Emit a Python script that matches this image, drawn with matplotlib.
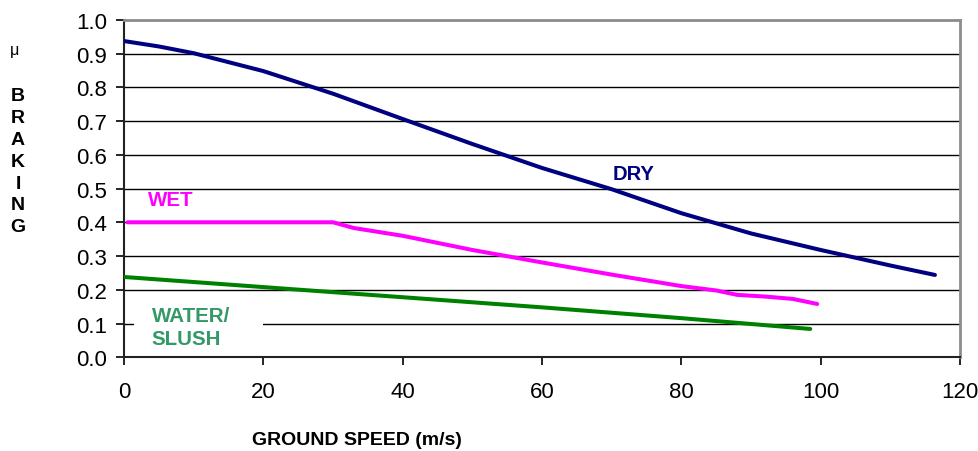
import numpy as np
import matplotlib.pyplot as plt
from matplotlib.patches import Rectangle

plt.rcParams['font.family'] = ['Liberation Sans', 'DejaVu Sans']

# ground speed (m/s) and braking coefficient for each runway state
dry_speed = [0, 5, 10, 20, 30, 40, 50, 60, 70, 80, 90, 100, 110, 116.4]
dry_mu = [0.937, 0.921, 0.901, 0.848, 0.781, 0.706, 0.632, 0.561, 0.498, 0.427, 0.367, 0.318, 0.272, 0.244]

wet_speed = [0.5, 30, 33, 40, 50, 60, 70, 80, 85, 88, 92, 96, 99.5]
wet_mu = [0.400, 0.400, 0.383, 0.360, 0.318, 0.281, 0.245, 0.211, 0.198, 0.185, 0.180, 0.173, 0.158]

slush_speed = [0, 20, 40, 60, 80, 98.5]
slush_mu = [0.238, 0.208, 0.178, 0.148, 0.116, 0.084]

x_ticks = [0, 20, 40, 60, 80, 100, 120]
y_ticks = [0.0, 0.1, 0.2, 0.3, 0.4, 0.5, 0.6, 0.7, 0.8, 0.9, 1.0]

fig = plt.figure(figsize=(9.79, 4.52), dpi=100)
ax = fig.add_axes([0.1267, 0.2073, 0.8539, 0.7467])

ax.set_xlim(0, 120)
ax.set_ylim(0, 1.0)
ax.set_xticks(x_ticks)
ax.set_yticks(y_ticks)
ax.set_yticklabels(['%.1f' % v for v in y_ticks])
ax.tick_params(axis='both', labelsize=16, direction='out', length=6, width=1.2)
ax.tick_params(axis='x', pad=11)
ax.tick_params(axis='y', pad=6)

for v in y_ticks[1:-1]:
    ax.axhline(v, color='black', lw=1.0, zorder=1)

for s in ['left', 'bottom']:
    ax.spines[s].set_color('#222222')
    ax.spines[s].set_linewidth(1.5)
for s in ['top', 'right']:
    ax.spines[s].set_color('#8c8c8c')
    ax.spines[s].set_linewidth(2.0)

ax.plot(dry_speed, dry_mu, color='#000080', lw=2.9, zorder=3, solid_capstyle='round')
ax.plot(wet_speed, wet_mu, color='#ff00ff', lw=2.9, zorder=3, solid_capstyle='round')
ax.plot(slush_speed, slush_mu, color='#008000', lw=2.9, zorder=3, solid_capstyle='round')

# white box behind the WATER/SLUSH label breaks the 0.1 gridline
ax.add_patch(Rectangle((1.45, 0.085), 18.5, 0.03, facecolor='white', edgecolor='none', zorder=2))

ax.text(73.2, 0.546, 'DRY', color='#000080', fontsize=14.5, fontweight='bold', ha='center', va='center', zorder=4)
ax.text(3.4, 0.468, 'WET', color='#ff00ff', fontsize=14.8, fontweight='bold', ha='left', va='center', zorder=4)
ax.text(4.0, 0.090, 'WATER/\nSLUSH', color='#339966', fontsize=14.8, fontweight='bold',
        ha='left', va='center', linespacing=1.3, zorder=4)

fig.text(15 / 979, 1 - 51 / 452, 'μ', fontsize=11.5, ha='center', va='center')
for i, ch in enumerate('BRAKING'):
    fig.text(18 / 979, 1 - (97 + i * 21.8) / 452, ch, fontsize=14, fontweight='bold',
             ha='center', va='center')

fig.text(252 / 979, 1 - 441 / 452, 'GROUND SPEED (m/s)', fontsize=14, fontweight='bold',
         ha='left', va='center')

fig.savefig('out.png', dpi=100)
